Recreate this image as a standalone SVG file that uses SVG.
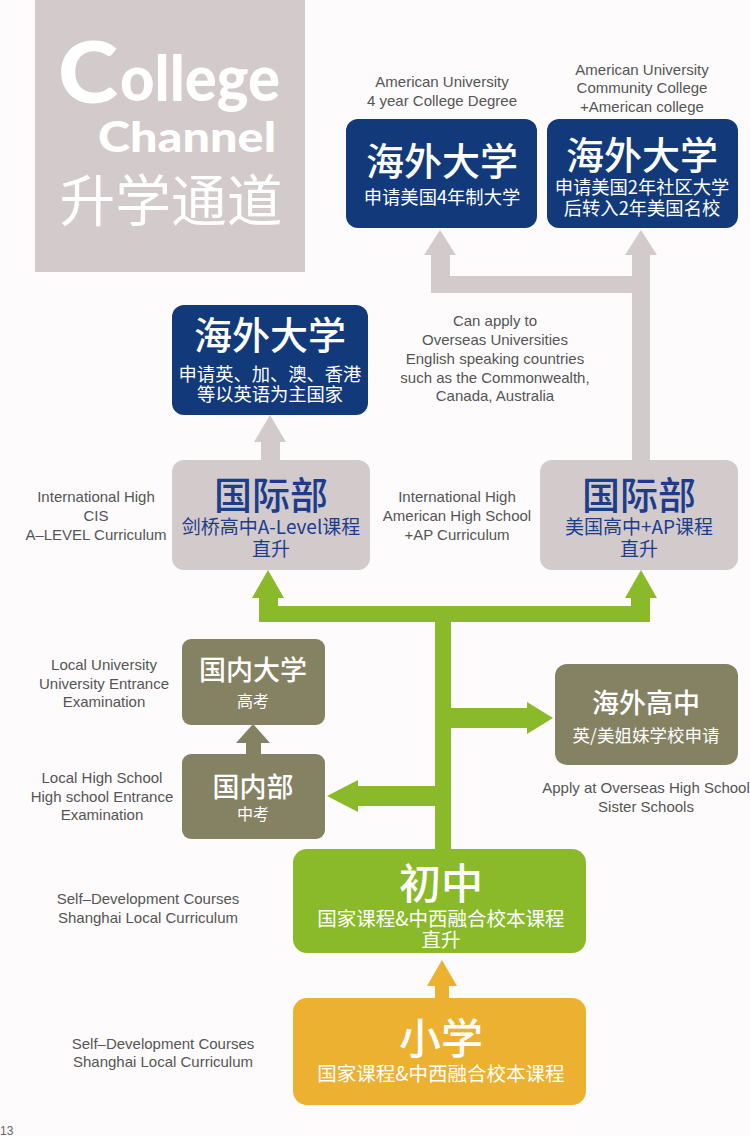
<svg xmlns="http://www.w3.org/2000/svg" width="750" height="1136" viewBox="0 0 750 1136">
<style>
.lbl{font-family:"Liberation Sans",Arial,sans-serif;font-size:15px;fill:#555;text-anchor:middle}
.cjk{font-family:"Noto Sans CJK SC","Noto Sans",sans-serif;text-anchor:middle}
.w{fill:#fff}
.b{fill:#1d3d8c}
.big{font-size:38px;font-weight:500}
.mid{font-size:27px;font-weight:500}
.sub{font-size:18.3px}
.sub2{font-size:19px}
.sm{font-size:16px}
.navy{fill:#123a7b}
.lg{fill:#d3cbcb}
.ol{fill:#858163}
.gr{fill:#8aba2a}
.or{fill:#ecb130}
.ttl{font-family:Lato,"Open Sans",sans-serif;font-weight:900;fill:#fff}
</style>
<rect width="750" height="1136" fill="#fdfbfb"/>
<g id="title">
<rect x="35" y="0" width="270" height="272" class="lg"/>
<text x="58" y="103" class="ttl" font-size="86" textLength="60" lengthAdjust="spacingAndGlyphs">C</text>
<text x="120" y="101" class="ttl" font-size="62" textLength="160" lengthAdjust="spacingAndGlyphs">ollege</text>
<text x="98" y="152" class="ttl" font-size="42" textLength="178" lengthAdjust="spacingAndGlyphs">Channel</text>
<text x="171" y="221" class="cjk w" font-size="56" textLength="223" lengthAdjust="spacingAndGlyphs">升学通道</text>
</g>
<g id="connectors">
<g id="gray-arrows" class="lg">
<rect x="632" y="254" width="18" height="206"/>
<polygon points="641,230 657,255 625,255"/>
<rect x="431" y="276" width="219" height="17"/>
<rect x="431" y="254" width="19" height="39"/>
<polygon points="440,230 456,255 424,255"/>
<rect x="261" y="441" width="19" height="19"/>
<polygon points="270,415 286,442 254,442"/>
</g>
<g id="green-arrows" class="gr">
<polygon points="268,570 284,598 252,598"/>
<rect x="259" y="597" width="19" height="25"/>
<rect x="259" y="606" width="391" height="16"/>
<polygon points="641,570 657,598 625,598"/>
<rect x="631" y="597" width="19" height="25"/>
<rect x="435" y="606" width="16" height="244"/>
<rect x="450" y="708" width="78" height="20"/>
<polygon points="527,702 553,718 527,734"/>
<rect x="357" y="786" width="79" height="20"/>
<polygon points="358,780 327,796 358,812"/>
</g>
<g id="olive-arrow" class="ol">
<polygon points="253,724 270,743 236,743"/>
<rect x="246" y="742" width="15" height="13"/>
</g>
<g id="orange-arrow" class="or">
<polygon points="442,960 457,986 427,986"/>
<rect x="435" y="985" width="14" height="14"/>
</g>
</g>
<g id="node-us4">
<text class="lbl" x="442" y="87">American University</text>
<text class="lbl" x="442" y="106">4 year College Degree</text>
<rect x="346" y="119" width="191" height="109" rx="12" class="navy"/>
<text class="cjk w big" x="442" y="175">海外大学</text>
<text class="cjk w sub" x="442" y="204">申请美国4年制大学</text>
</g>
<g id="node-us2">
<text class="lbl" x="642" y="75">American University</text>
<text class="lbl" x="642" y="93">Community College</text>
<text class="lbl" x="642" y="112">+American college</text>
<rect x="547" y="119" width="191" height="109" rx="12" class="navy"/>
<text class="cjk w big" x="642" y="169">海外大学</text>
<text class="cjk w sub" x="642" y="194">申请美国2年社区大学</text>
<text class="cjk w sub" x="642" y="215">后转入2年美国名校</text>
</g>
<g id="node-commonwealth">
<rect x="172" y="305" width="196" height="110" rx="12" class="navy"/>
<text class="cjk w big" x="270" y="349">海外大学</text>
<text class="cjk w sub" x="270" y="381">申请英、加、澳、香港</text>
<text class="cjk w sub" x="270" y="401">等以英语为主国家</text>
<text class="lbl" x="495" y="326">Can apply to</text>
<text class="lbl" x="495" y="345">Overseas Universities</text>
<text class="lbl" x="495" y="364">English speaking countries</text>
<text class="lbl" x="495" y="383">such as the Commonwealth,</text>
<text class="lbl" x="495" y="401">Canada, Australia</text>
</g>
<g id="node-intl-alevel">
<text class="lbl" x="96" y="502">International High</text>
<text class="lbl" x="96" y="521">CIS</text>
<text class="lbl" x="96" y="540">A–LEVEL Curriculum</text>
<rect x="172" y="460" width="198" height="110" rx="12" class="lg"/>
<text class="cjk b big" x="271" y="509">国际部</text>
<text class="cjk b sub2" x="271" y="534">剑桥高中A-Level课程</text>
<text class="cjk b sub2" x="271" y="556">直升</text>
</g>
<g id="node-intl-ap">
<text class="lbl" x="457" y="502">International High</text>
<text class="lbl" x="457" y="521">American High School</text>
<text class="lbl" x="457" y="540">+AP Curriculum</text>
<rect x="540" y="460" width="198" height="110" rx="12" class="lg"/>
<text class="cjk b big" x="639" y="509">国际部</text>
<text class="cjk b sub2" x="639" y="534">美国高中+AP课程</text>
<text class="cjk b sub2" x="639" y="556">直升</text>
</g>
<g id="node-local-uni">
<text class="lbl" x="104" y="670">Local University</text>
<text class="lbl" x="104" y="689">University Entrance</text>
<text class="lbl" x="104" y="707">Examination</text>
<rect x="182" y="639" width="143" height="86" rx="9" class="ol"/>
<text class="cjk w mid" x="253" y="680">国内大学</text>
<text class="cjk w sm" x="253" y="707">高考</text>
</g>
<g id="node-local-high">
<text class="lbl" x="102" y="783">Local High School</text>
<text class="lbl" x="102" y="802">High school Entrance</text>
<text class="lbl" x="102" y="820">Examination</text>
<rect x="182" y="754" width="143" height="85" rx="9" class="ol"/>
<text class="cjk w mid" x="253" y="797">国内部</text>
<text class="cjk w sm" x="253" y="820">中考</text>
</g>
<g id="node-overseas-high">
<rect x="555" y="664" width="183" height="101" rx="12" class="ol"/>
<text class="cjk w mid" x="646" y="713">海外高中</text>
<text class="cjk w" font-size="17.5" x="646" y="742">英/美姐妹学校申请</text>
<text class="lbl" x="646" y="793">Apply at Overseas High School</text>
<text class="lbl" x="646" y="812">Sister Schools</text>
</g>
<g id="node-middle">
<text class="lbl" x="148" y="904">Self–Development Courses</text>
<text class="lbl" x="148" y="923">Shanghai Local Curriculum</text>
<rect x="293" y="849" width="293" height="104" rx="14" class="gr"/>
<text class="cjk w" font-size="42" font-weight="500" x="441" y="899">初中</text>
<text class="cjk w" font-size="19.5" x="441" y="926">国家课程&amp;中西融合校本课程</text>
<text class="cjk w" font-size="19.5" x="441" y="947">直升</text>
</g>
<g id="node-primary">
<text class="lbl" x="163" y="1049">Self–Development Courses</text>
<text class="lbl" x="163" y="1067">Shanghai Local Curriculum</text>
<rect x="293" y="998" width="293" height="107" rx="14" class="or"/>
<text class="cjk w" font-size="42" font-weight="500" x="441" y="1054">小学</text>
<text class="cjk w" font-size="19.5" x="441" y="1081">国家课程&amp;中西融合校本课程</text>
</g>
<text x="0" y="1135" font-family="'Liberation Sans',Arial,sans-serif" font-size="12" fill="#666">13</text>
</svg>
